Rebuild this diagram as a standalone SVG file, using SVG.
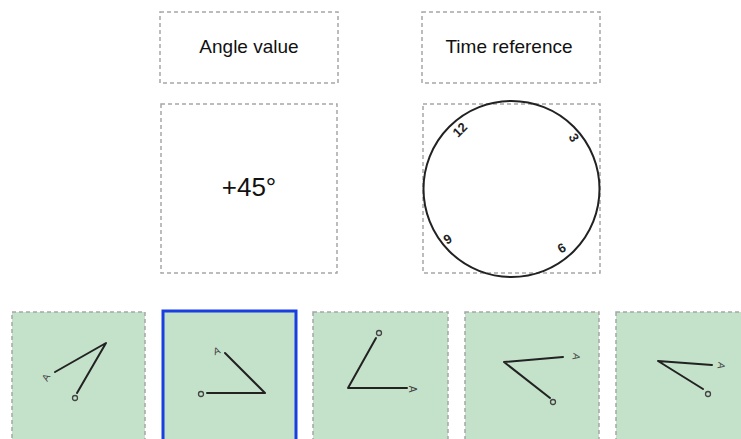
<svg xmlns="http://www.w3.org/2000/svg" width="741" height="439" viewBox="0 0 741 439">
<style>
.box{fill:#fff;stroke:#a6a6a6;stroke-width:1.5;stroke-dasharray:4 3}
.opt{fill:#c4e1ca;stroke:#a6a6a6;stroke-width:1.5;stroke-dasharray:4 3}
.sel{fill:#c4e1ca;stroke:#1a3fe0;stroke-width:3}
.ln{fill:none;stroke:#222;stroke-width:2;stroke-linecap:round;stroke-linejoin:round}
.o{fill:none;stroke:#444;stroke-width:1.3}
.a{font-family:"Liberation Sans",Arial,sans-serif;font-size:10px;fill:#444;text-anchor:middle}
.t{font-family:"Liberation Sans",Arial,sans-serif;font-size:19px;fill:#111;text-anchor:middle}
.n{font-family:"Liberation Sans",Arial,sans-serif;font-size:13px;font-weight:bold;fill:#222;text-anchor:middle}
</style>
<rect width="741" height="439" fill="#fff"/>
<g id="angle-label"><rect class="box" x="160" y="12" width="178" height="71"/><text class="t" x="249" y="53">Angle value</text></g>
<g id="time-label"><rect class="box" x="422" y="12" width="178" height="71"/><text class="t" x="509" y="53">Time reference</text></g>
<g id="angle-value"><rect class="box" x="161" y="104" width="176" height="169"/><text x="249" y="196" font-family="Liberation Sans,Arial,sans-serif" font-size="26" fill="#111" text-anchor="middle">+45°</text></g>
<g id="clock"><rect class="box" x="423" y="104" width="177" height="169"/>
<circle cx="511.5" cy="189" r="88" fill="none" stroke="#222" stroke-width="2"/>
<text class="n" transform="translate(463,133) rotate(-45)">12</text>
<text class="n" transform="translate(570,140) rotate(60)">3</text>
<text class="n" transform="translate(450,243) rotate(-30)">9</text>
<text class="n" transform="translate(564,252) rotate(-30)">6</text>
</g>
<g id="option1"><rect class="opt" x="12" y="312" width="133" height="140"/></g>
<g id="option2"><rect class="sel" x="163" y="311" width="133" height="140"/></g>
<g id="option3"><rect class="opt" x="313" y="312" width="135" height="140"/></g>
<g id="option4"><rect class="opt" x="465" y="312" width="134" height="140"/></g>
<g id="option5"><rect class="opt" x="616" y="312" width="135" height="140"/></g>
<g id="connectors">
<polyline class="ln" points="55,372 106,343 77,393"/>
<circle class="o" cx="75" cy="398" r="2.5"/>
<text class="a" transform="translate(49,379) rotate(-60)">A</text>
<polyline class="ln" points="225,353 265,393 207,393"/>
<circle class="o" cx="201" cy="394" r="2.5"/>
<text class="a" transform="translate(218,354) rotate(-20)">A</text>
<polyline class="ln" points="376,338 348,388 407,388"/>
<circle class="o" cx="379" cy="333" r="2.5"/>
<text class="a" transform="translate(409,389) rotate(90)">A</text>
<polyline class="ln" points="563,357 504,362 550,398"/>
<circle class="o" cx="553" cy="402" r="2.5"/>
<text class="a" transform="translate(573,356) rotate(100)">A</text>
<polyline class="ln" points="712,365 658,361 703,389"/>
<circle class="o" cx="708" cy="394" r="2.5"/>
<text class="a" transform="translate(718,365) rotate(100)">A</text>
</g>
</svg>
